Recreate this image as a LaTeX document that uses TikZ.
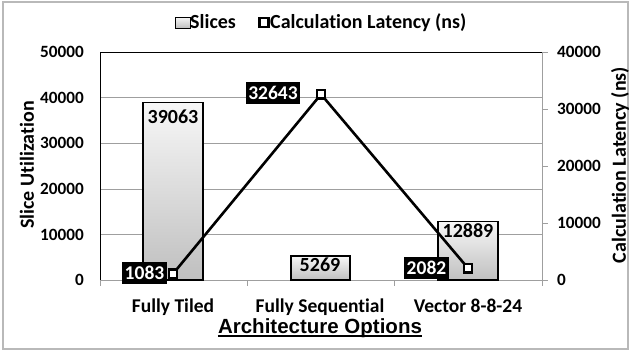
\documentclass[tikz,border=0pt]{standalone}
\usepackage{fontspec}
\setmainfont{Carlito}[Ligatures=NoCommon]
\newfontfamily\arialfont{Liberation Sans}[Ligatures=NoCommon]

\begin{document}
\begin{tikzpicture}[x=1pt, y=-1pt,
    ticklabel/.style  = {font=\fontsize{17.2}{18}\selectfont\bfseries, inner sep=0pt},
    catlabel/.style   = {font=\fontsize{19.5}{21}\selectfont\bfseries, inner sep=0pt},
    axistitle/.style  = {font=\fontsize{20}{21}\selectfont\bfseries, inner sep=0pt},
    barlabel/.style   = {font=\fontsize{20}{21}\selectfont\bfseries, inner sep=0pt},
    blacklabel/.style = {font=\fontsize{19.5}{21}\selectfont\bfseries, fill=black, text=white,
                         inner xsep=2.5pt, inner ysep=0pt, minimum height=22pt},
    slicebar/.style   = {draw=black, line width=1.2pt, top color=gray!6, bottom color=gray!50},
    latmark/.style    = {draw=black, fill=white, line width=2.2pt, minimum size=8.5pt,
                         inner sep=0pt, shape=rectangle},
    grid line/.style  = {draw=gray!75, line width=1pt},
  ]
  \useasboundingbox (0, 0) rectangle (631, 351);
  \draw[gray!55, line width=1.5pt] (3, 2) rectangle (628, 349);

  % ------------------------------------------------------------------------
  % Legend
  \node[slicebar, line width=1pt, minimum width=15pt, minimum height=11pt, inner sep=0pt]
    at (182.5, 22.5) (legbar) {};
  \node[axistitle, anchor=base west] at (190, 28) (legslices) {Slices};
  \node[latmark, minimum size=9pt] at (264, 22.5) (legmark) {};
  \node[axistitle, anchor=base west] at (270, 28) (leglat) {Calculation Latency (ns)};

  % ------------------------------------------------------------------------
  % Grid and axes
  \foreach \y in {97.8, 143.4, 189, 234.5}
    \draw[grid line] (100, \y) -- (542, \y);
  \draw[black, line width=1pt] (100, 280) -- (100, 52.3) -- (542, 52.3);
  \draw[grid line] (100, 280) -- (542, 280) -- (542, 52.3);
  \foreach \x in {100, 247.3, 394.7, 542}
    \draw[grid line] (\x, 280) -- (\x, 286);
  \foreach \y in {52.3, 109.2, 166.1, 223, 280}
    \draw[grid line] (542, \y) -- (548, \y);

  % left values
  \node[ticklabel, anchor=east] at (84, 52.3)  (l5) {50000};
  \node[ticklabel, anchor=east] at (84, 97.8)  (l4) {40000};
  \node[ticklabel, anchor=east] at (84, 143.4) (l3) {30000};
  \node[ticklabel, anchor=east] at (84, 189)   (l2) {20000};
  \node[ticklabel, anchor=east] at (84, 234.5) (l1) {10000};
  \node[ticklabel, anchor=east] at (84, 280)   (l0) {0};

  % right values
  \node[ticklabel, anchor=west] at (557, 52.3)  (r4) {40000};
  \node[ticklabel, anchor=west] at (557, 109.2) (r3) {30000};
  \node[ticklabel, anchor=west] at (557, 166.1) (r2) {20000};
  \node[ticklabel, anchor=west] at (557, 223)   (r1) {10000};
  \node[ticklabel, anchor=west] at (557, 280)   (r0) {0};

  \node[axistitle, rotate=90] at (27, 165)  (ytitle)  {Slice Utilization};
  \node[axistitle, rotate=90] at (620, 165) (y2title) {Calculation Latency (ns)};

  % categories
  \node[catlabel, anchor=base] at (173, 312) (ctiled) {Fully Tiled};
  \node[catlabel, anchor=base] at (320, 312) (cseq)   {Fully Sequential};
  \node[catlabel, anchor=base] at (468, 312) (cvec)   {Vector 8-8-24};

  \node[font=\arialfont\bfseries\fontsize{20.5}{22}\selectfont, inner sep=0pt, anchor=base]
    at (320, 333) (xtitle) {Architecture Options};
  \draw[black, line width=1.4pt]
    ([yshift=-2.8pt]xtitle.base west) -- ([yshift=-2.8pt]xtitle.base east);

  % ------------------------------------------------------------------------
  % Slices
  \draw[slicebar] (143, 280) rectangle (203, 102.1);
  \draw[slicebar] (291, 280) rectangle (350, 256);
  \draw[slicebar] (438, 280) rectangle (498, 221.3);

  \node[barlabel] at (173, 117) (s1) {39063};
  \node[barlabel] at (320, 265) (s2) {5269};
  \node[barlabel] at (468, 231) (s3) {12889};

  % ------------------------------------------------------------------------
  % Latency
  \coordinate (p1) at (173, 273.8);
  \coordinate (p2) at (321, 94.3);
  \coordinate (p3) at (468, 268.2);

  \draw[black, line width=2.6pt, line join=round]
    (p1) -- (p2) -- (p3);

  \node[latmark] at (p1) (m1) {};
  \node[latmark] at (p2) (m2) {};
  \node[latmark] at (p3) (m3) {};

  \node[blacklabel] at (144.5, 272.5) (t1) {1083};
  \node[blacklabel] at (273, 93)      (t2) {32643};
  \node[blacklabel] at (426.5, 268)   (t3) {2082};
\end{tikzpicture}
\end{document}
